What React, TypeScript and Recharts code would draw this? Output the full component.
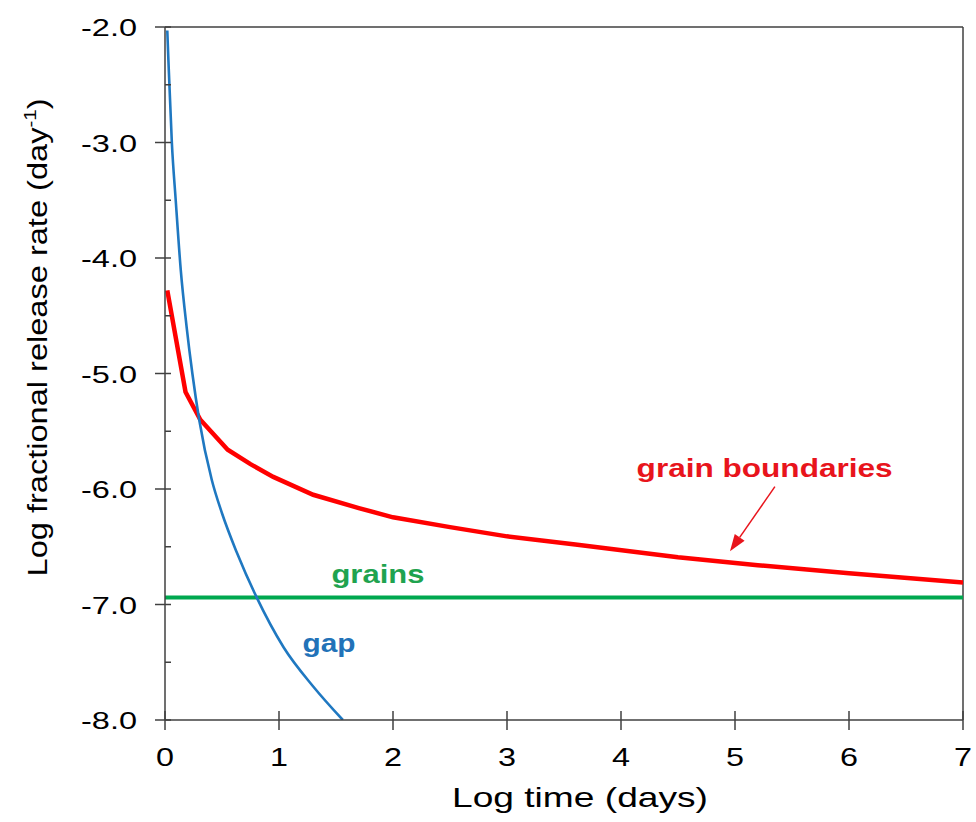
import React from "react";
import { LineChart, Line, XAxis, YAxis, ReferenceLine, ReferenceDot } from "recharts";

// values (log10 scale on both axes)
const GAP_X = [0.02, 0.03, 0.06, 0.094, 0.138, 0.19, 0.24, 0.3, 0.41, 0.5, 0.63, 0.8, 1.04, 1.3, 1.56];
const GAP_Y = [-2.03, -2.29, -3.0, -3.5, -4.1, -4.6, -5.0, -5.4, -5.92, -6.21, -6.55, -6.93, -7.37, -7.71, -8.0];
const GB_X = [0.02, 0.18, 0.31, 0.55, 0.75, 0.95, 1.3, 1.7, 2.0, 2.5, 3.0, 3.6, 4.5, 5.2, 6.0, 7.0];
const GB_Y = [-4.28, -5.16, -5.4, -5.66, -5.785, -5.895, -6.05, -6.165, -6.245, -6.33, -6.41, -6.48, -6.59, -6.66, -6.73, -6.81];
const GRAINS_X = [0, 7];
const GRAINS_Y = [-6.94, -6.94];

const X_TICKS = [0, 1, 2, 3, 4, 5, 6, 7];
const Y_TICKS = [-8, -7.5, -7, -6.5, -6, -5.5, -5, -4.5, -4, -3.5, -3, -2.5, -2];

const toPoints = (xs: number[], ys: number[]) => xs.map((x, i) => ({ x, y: ys[i] }));

const AXIS = "#404040";
const FONT = "'Liberation Sans', Arial, sans-serif";
const RED = "#FF0000";
const BLUE = "#1F78C1";
const GREEN = "#00A84F";

function YTick({ x, y, payload }: any) {
  const v = payload.value as number;
  const major = Number.isInteger(v);
  return (
    <g>
      <line x1={major ? x - 10 : x} x2={x + 6} y1={y} y2={y} stroke={AXIS} strokeWidth={1.5} />
      {major && (
        <text
          x={x - 28}
          y={y + 9}
          textAnchor="end"
          fontFamily={FONT}
          fontSize={24}
          fill="#000"
          textLength={56}
          lengthAdjust="spacingAndGlyphs"
        >
          {v.toFixed(1)}
        </text>
      )}
    </g>
  );
}

function XTick({ x, y, payload }: any) {
  return (
    <g>
      <line x1={x} x2={x} y1={y - 9} y2={y + 10} stroke={AXIS} strokeWidth={1.5} />
      <text
        x={x}
        y={y + 46}
        textAnchor="middle"
        fontFamily={FONT}
        fontSize={26}
        fill="#000"
        textLength={18}
        lengthAdjust="spacingAndGlyphs"
      >
        {payload.value}
      </text>
    </g>
  );
}

function Note(text: string, color: string, len: number, size: number) {
  return (p: any) => (
    <text
      x={p.cx}
      y={p.cy}
      textAnchor="middle"
      fontFamily={FONT}
      fontWeight="bold"
      fontSize={size}
      fill={color}
      textLength={len}
      lengthAdjust="spacingAndGlyphs"
    >
      {text}
    </text>
  );
}

function Arrow(p: any) {
  const { x1, y1, x2, y2 } = p;
  const dx = x2 - x1;
  const dy = y2 - y1;
  const d = Math.hypot(dx, dy) || 1;
  const ux = dx / d;
  const uy = dy / d;
  const bx = x2 - ux * 17;
  const by = y2 - uy * 17;
  return (
    <g>
      <line x1={x1} y1={y1} x2={bx} y2={by} stroke="#E8141C" strokeWidth={1.5} />
      <polygon
        points={`${x2},${y2} ${bx - uy * 6},${by + ux * 6} ${bx + uy * 6},${by - ux * 6}`}
        fill="#E8141C"
      />
    </g>
  );
}

export default function App() {
  return (
    <div style={{ position: "absolute", left: 0, top: 0, background: "#fff" }}>
      <LineChart width={976} height={822} margin={{ top: 27, right: 13, bottom: 0, left: 0 }}>
        <XAxis
          dataKey="x"
          type="number"
          domain={[0, 7]}
          ticks={X_TICKS}
          interval={0}
          allowDataOverflow
          height={102}
          tickSize={0}
          tickMargin={0}
          tickLine={false}
          tick={<XTick />}
          axisLine={{ stroke: AXIS, strokeWidth: 1.5 }}
          label={{
            content: ({ viewBox }: any) => (
              <text
                x={viewBox.x + viewBox.width / 2 + 16}
                y={viewBox.y + 87}
                textAnchor="middle"
                fontFamily={FONT}
                fontSize={28}
                fill="#000"
                textLength={256}
                lengthAdjust="spacingAndGlyphs"
              >
                Log time  (days)
              </text>
            ),
          }}
        />
        <YAxis
          dataKey="y"
          type="number"
          domain={[-8, -2]}
          ticks={Y_TICKS}
          interval={0}
          allowDataOverflow
          width={165}
          tickSize={0}
          tickMargin={0}
          tickLine={false}
          tick={<YTick />}
          axisLine={{ stroke: AXIS, strokeWidth: 1.5 }}
          label={{
            content: ({ viewBox }: any) => {
              const cx = viewBox.x + 47;
              const cy = viewBox.y + viewBox.height / 2 - 36;
              return (
                <text
                  x={cx}
                  y={cy}
                  transform={`rotate(-90 ${cx} ${cy})`}
                  textAnchor="middle"
                  fontFamily={FONT}
                  fontSize={27}
                  fill="#000"
                  textLength={478}
                  lengthAdjust="spacingAndGlyphs"
                >
                  Log fractional release rate (day
                  <tspan dy={-11} fontSize={17}>-1</tspan>
                  <tspan dy={11}>)</tspan>
                </text>
              );
            },
          }}
        />
        <ReferenceLine y={-2} stroke={AXIS} strokeWidth={1.5} />
        <ReferenceLine x={7} stroke={AXIS} strokeWidth={1.5} />

        <Line
          data={toPoints(GRAINS_X, GRAINS_Y)}
          dataKey="y"
          type="linear"
          stroke={GREEN}
          strokeWidth={4}
          dot={false}
          isAnimationActive={false}
        />
        <Line
          data={toPoints(GB_X, GB_Y)}
          dataKey="y"
          type="linear"
          stroke={RED}
          strokeWidth={4.5}
          dot={false}
          isAnimationActive={false}
        />
        <Line
          data={toPoints(GAP_X, GAP_Y)}
          dataKey="y"
          type="monotone"
          stroke={BLUE}
          strokeWidth={2.6}
          dot={false}
          isAnimationActive={false}
        />

        <ReferenceDot x={5.26} y={-5.896} r={0} shape={Note("grain boundaries", "#E8141C", 256, 26)} />
        <ReferenceDot x={1.868} y={-6.814} r={0} shape={Note("grains", "#1FA34F", 93, 26)} />
        <ReferenceDot x={1.439} y={-7.411} r={0} shape={Note("gap", "#2272B8", 53, 26)} />
        <ReferenceLine
          segment={[
            { x: 5.35, y: -5.98 },
            { x: 4.956, y: -6.54 },
          ]}
          shape={Arrow}
        />
      </LineChart>
    </div>
  );
}
